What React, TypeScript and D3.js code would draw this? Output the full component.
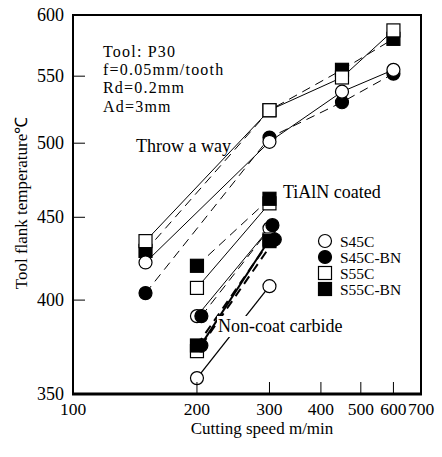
import React from 'react';
import * as d3 from 'd3';

// Axis ticks
const xTickValues = [100, 200, 300, 400, 500, 600, 700];
const yTickValues = [350, 400, 450, 500, 550, 600];

// Throw-away inserts (cutting speed m/min, flank temperature °C)
const throwSpeeds = [150, 300, 450, 600];
const throwS45C = [422, 501, 538, 555];
const throwS45CBN = [404, 504, 530, 552];
const throwS55C = [435, 524, 549, 587];
const throwS55CBN = [429, 524, 555, 580];

// TiAlN coated
const coatSpeeds = [200, 300];
const coatSpeedsBN45 = [205, 305];
const coatS45C = [391, 443];
const coatS45CBN = [391, 445];
const coatS55C = [407, 459];
const coatS55CBN = [420, 462];

// Non-coat carbide
const plainSpeeds = [200, 300];
const plainSpeedsBN45 = [205, 309];
const plainS45C = [358, 408];
const plainS45CBN = [375, 436];
const plainS55C = [372, 436];
const plainS55CBN = [375, 435];

const legendNames = ['S45C', 'S45C-BN', 'S55C', 'S55C-BN'];

type Kind = 'S45C' | 'S45C-BN' | 'S55C' | 'S55C-BN';
interface Line { kind: Kind; xs: number[]; ys: number[]; width: number; }

const pair = (xs: number[], ys: number[]) => xs.map((v, i) => [v, ys[i]] as [number, number]);

const throwLines: Line[] = [
  { kind: 'S55C-BN', xs: throwSpeeds, ys: throwS55CBN, width: 1 },
  { kind: 'S45C-BN', xs: throwSpeeds, ys: throwS45CBN, width: 1 },
  { kind: 'S55C', xs: throwSpeeds, ys: throwS55C, width: 1 },
  { kind: 'S45C', xs: throwSpeeds, ys: throwS45C, width: 1 },
];
const coatLines: Line[] = [
  { kind: 'S55C', xs: coatSpeeds, ys: coatS55C, width: 1 },
  { kind: 'S45C', xs: coatSpeeds, ys: coatS45C, width: 1 },
  { kind: 'S55C-BN', xs: coatSpeeds, ys: coatS55CBN, width: 1 },
  { kind: 'S45C-BN', xs: coatSpeedsBN45, ys: coatS45CBN, width: 1 },
];
const plainLines: Line[] = [
  { kind: 'S45C', xs: plainSpeeds, ys: plainS45C, width: 1.3 },
  { kind: 'S55C', xs: plainSpeeds, ys: plainS55C, width: 2 },
  { kind: 'S55C-BN', xs: plainSpeeds, ys: plainS55CBN, width: 2 },
  { kind: 'S45C-BN', xs: plainSpeedsBN45, ys: plainS45CBN, width: 2 },
];

const FONT = '"Liberation Serif", "Times New Roman", serif';

function Marker({ kind, cx, cy }: { kind: Kind; cx: number; cy: number }) {
  const filled = kind.endsWith('BN');
  const fill = filled ? '#000' : '#fff';
  if (kind.startsWith('S45C')) {
    return <circle cx={cx} cy={cy} r={6.5} fill={fill} stroke="#000" strokeWidth={1.2} />;
  }
  return <rect x={cx - 6.5} y={cy - 6.5} width={13} height={13} fill={fill} stroke="#000" strokeWidth={1.2} />;
}

export default function App() {
  const x = d3.scaleLog().domain([100, 700]).range([73, 421]);
  const y = d3.scaleLog().domain([350, 600]).range([394, 15]);
  const line = d3.line<[number, number]>().x(d => x(d[0])).y(d => y(d[1]));

  const drawLines = (lines: Line[], key: string) =>
    lines.map((l, i) => (
      <path
        key={key + i}
        d={line(pair(l.xs, l.ys)) || ''}
        fill="none"
        stroke="#000"
        strokeWidth={l.width}
        strokeDasharray={l.kind.endsWith('BN') ? '9,6' : undefined}
      />
    ));
  const drawMarkers = (lines: Line[], key: string) =>
    lines.flatMap((l, i) =>
      l.xs.map((sx, j) => <Marker key={key + i + '-' + j} kind={l.kind} cx={x(sx)} cy={y(l.ys[j])} />)
    );

  return (
    <svg width={442} height={457} style={{ position: 'absolute', left: 0, top: 0, background: '#fff' }} fontFamily={FONT}>
      <rect width={442} height={457} fill="#fff" />

      {/* series lines */}
      {drawLines(throwLines, 't')}
      {drawLines(coatLines, 'c')}
      {drawLines(plainLines, 'p')}

      {/* group labels */}
      <text x={136} y={152} fontSize={18}>Throw a way</text>
      <text x={283} y={198} fontSize={18}>TiAlN coated</text>
      <rect x={217} y={316} width={130} height={21} fill="#fff" />
      <text x={218} y={332} fontSize={18}>Non-coat carbide</text>

      {/* markers */}
      {drawMarkers(throwLines, 'tm')}
      {drawMarkers(coatLines, 'cm')}
      {drawMarkers(plainLines, 'pm')}

      {/* frame */}
      <rect x={73} y={15} width={348} height={379} fill="none" stroke="#000" strokeWidth={2} />
      <line x1={72} x2={422} y1={394} y2={394} stroke="#000" strokeWidth={3} />

      {/* y ticks */}
      {yTickValues.map(v => (
        <g key={'y' + v}>
          {v > 350 && v < 600 && <line x1={73} x2={85} y1={y(v)} y2={y(v)} stroke="#000" strokeWidth={1} />}
          <text x={64} y={y(v) + 6} fontSize={18} textAnchor="end">{v}</text>
        </g>
      ))}

      {/* x ticks */}
      {xTickValues.map(v => (
        <g key={'x' + v}>
          {v > 100 && v < 700 && <line x1={x(v)} x2={x(v)} y1={394} y2={382} stroke="#000" strokeWidth={1} />}
        </g>
      ))}
      {xTickValues.map(v => (
        <text key={'xl' + v} x={x(v)} y={415} fontSize={17.5} textAnchor="middle">{v}</text>
      ))}

      {/* axis titles */}
      <text x={262} y={434} fontSize={17} textAnchor="middle">Cutting speed m/min</text>
      <text transform="translate(27,203) rotate(-90)" fontSize={17} textAnchor="middle">Tool flank temperature℃</text>

      {/* cutting conditions */}
      <g fontSize={16} letterSpacing={1.2}>
        <text x={103} y={57}>Tool: P30</text>
        <text x={103} y={75}>f=0.05mm/tooth</text>
        <text x={103} y={93}>Rd=0.2mm</text>
        <text x={103} y={112}>Ad=3mm</text>
      </g>

      {/* legend */}
      {legendNames.map((name, i) => {
        const ly = 241 + i * 16;
        return (
          <g key={name}>
            <Marker kind={name as Kind} cx={325} cy={ly} />
            <text x={340} y={ly + 5.5} fontSize={15.5}>{name}</text>
          </g>
        );
      })}
    </svg>
  );
}
